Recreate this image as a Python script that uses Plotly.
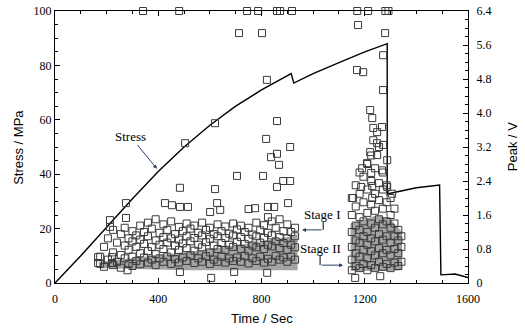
import plotly.graph_objects as go

# ---- Stress curve (Time s, Stress MPa) ----
stress_t = [0, 100, 200, 300, 400, 500, 600, 700, 800, 900, 915, 925, 1000, 1100, 1200, 1287, 1287, 1300, 1400, 1490, 1495, 1550, 1600]
stress_v = [0, 10, 20.5, 31, 41, 50, 58, 65, 71, 76, 77, 73.5, 77, 81, 85, 88, 32.5, 33, 35, 36, 3, 3.3, 2]

# ---- Peak outliers (Time s, Peak V) ----
out_t = [341, 481, 744, 787, 860, 872, 918, 1171, 1213, 1280, 1292,
         713, 802, 1174, 1279, 1170, 1194, 821, 1271, 1271, 620, 504, 860, 818, 911, 837, 860, 868,
         1221, 1229, 1233, 1248, 1267, 1233, 1248, 1271, 1221, 1248, 1287, 1209, 1190, 1225, 1267,
         1186, 1229, 1287, 1155, 1229, 1306,
         167, 167, 221, 221, 213, 213, 275, 275, 426, 484, 453, 484, 515, 705, 806, 860, 911, 884,
         620, 903, 825, 849, 750, 775, 628, 601, 640, 605, 694, 822, 281, 484, 1163, 1260]
out_v = [6.4, 6.4, 6.4, 6.4, 6.4, 6.4, 6.4, 6.4, 6.4, 6.4, 6.4,
         5.88, 5.88, 6.07, 5.88, 5.01, 4.96, 4.78, 5.36, 4.54, 3.76, 3.29, 3.81, 3.39, 3.2, 2.96, 3.04, 2.78,
         4.07, 3.88, 3.65, 3.55, 3.67, 3.36, 3.29, 3.25, 3.08, 3.01, 2.89, 2.82, 2.7, 2.59, 2.65,
         2.26, 2.28, 2.26, 2.0, 2.0, 2.1,
         0.61, 0.47, 0.61, 0.47, 1.48, 1.32, 1.88, 1.53, 1.88, 2.24, 1.83, 1.79, 1.79, 2.52, 2.52, 2.26, 2.4, 2.4,
         2.21, 1.88, 1.79, 1.79, 1.74, 1.76, 1.88, 1.67, 1.72, 0.12, 0.26, 0.24, 0.3, 0.26, 0.12, 0.16]

# ---- Stage I cluster (Time s, Peak V) ----
s1_t = [175, 175, 190, 190, 205, 205, 225, 225, 225, 240, 240, 255, 255, 255, 270, 270, 270, 285, 285, 285,
        300, 300, 300, 300, 315, 315, 315, 330, 330, 330, 330, 345, 345, 345, 360, 360, 360, 360,
        375, 375, 375, 390, 390, 390, 390, 405, 405, 405, 420, 420, 420, 420, 435, 435, 435,
        450, 450, 450, 450, 465, 465, 465, 480, 480, 480, 480, 495, 495, 495, 510, 510, 510, 510,
        525, 525, 525, 540, 540, 540, 540, 555, 555, 555, 570, 570, 570, 570, 585, 585, 585,
        600, 600, 600, 600, 615, 615, 615, 630, 630, 630, 630, 645, 645, 645, 660, 660, 660, 660,
        675, 675, 675, 690, 690, 690, 690, 705, 705, 705, 720, 720, 720, 720, 735, 735, 735,
        750, 750, 750, 750, 765, 765, 765, 780, 780, 780, 780, 795, 795, 795, 810, 810, 810, 810,
        825, 825, 825, 825, 840, 840, 840, 840, 855, 855, 855, 870, 870, 870, 870, 885, 885, 885,
        900, 900, 900, 900, 915, 915, 915, 930, 930, 930, 930]
s1_v = [0.45, 0.62, 0.38, 0.85, 0.55, 1.05, 0.42, 0.72, 1.25, 0.5, 0.95, 0.36, 0.66, 1.15, 0.58, 0.88, 1.3, 0.45, 0.78, 1.05,
        0.4, 0.62, 0.98, 1.22, 0.52, 0.85, 1.12, 0.44, 0.7, 1.02, 1.35, 0.6, 0.92, 1.2, 0.48, 0.75, 1.1, 1.42,
        0.55, 0.85, 1.28, 0.42, 0.68, 1.0, 1.5, 0.58, 0.9, 1.18, 0.5, 0.8, 1.08, 1.38, 0.62, 0.95, 1.25,
        0.45, 0.72, 1.05, 1.45, 0.56, 0.88, 1.15, 0.48, 0.78, 1.02, 1.32, 0.6, 0.93, 1.22, 0.52, 0.82, 1.1, 1.4,
        0.65, 0.98, 1.28, 0.47, 0.76, 1.06, 1.35, 0.58, 0.9, 1.18, 0.5, 0.84, 1.12, 1.42, 0.63, 0.96, 1.25,
        0.45, 0.72, 1.04, 1.3, 0.55, 0.88, 1.15, 0.5, 0.8, 1.1, 1.38, 0.62, 0.94, 1.22, 0.48, 0.78, 1.06, 1.33,
        0.58, 0.9, 1.16, 0.52, 0.85, 1.12, 1.4, 0.6, 0.97, 1.26, 0.5, 0.8, 1.08, 1.35, 0.64, 0.92, 1.2,
        0.46, 0.76, 1.04, 1.3, 0.58, 0.88, 1.14, 0.52, 0.84, 1.1, 1.42, 0.62, 0.95, 1.24, 0.48, 0.8, 1.06, 1.36,
        0.57, 0.9, 1.18, 1.55, 0.5, 0.86, 1.12, 1.45, 0.64, 0.98, 1.3, 0.55, 0.82, 1.08, 1.5, 0.6, 0.94, 1.22,
        0.5, 0.78, 1.05, 1.38, 0.62, 0.9, 1.2, 0.55, 0.84, 1.1, 1.3]

# ---- Stage II cluster (Time s, Peak V) ----
s2_t = [1150] * 6 + [1165] * 6 + [1180] * 7 + [1195] * 6 + [1210] * 7 + [1225] * 7 + [1240] * 7 + \
       [1255] * 7 + [1270] * 7 + [1285] * 6 + [1300] * 6 + [1315] * 5 + [1330] * 4 + [1342] * 3
s2_v = [0.3, 0.55, 0.85, 1.2, 1.6, 2.0,
        0.4, 0.7, 1.0, 1.35, 1.8, 2.3,
        0.35, 0.62, 0.95, 1.25, 1.55, 2.1, 2.6,
        0.45, 0.78, 1.1, 1.45, 1.9, 2.5,
        0.3, 0.58, 0.9, 1.2, 1.65, 2.2, 2.8,
        0.42, 0.75, 1.05, 1.4, 1.85, 2.4, 3.0,
        0.35, 0.65, 0.98, 1.3, 1.7, 2.1, 2.7,
        0.5, 0.82, 1.15, 1.5, 1.95, 2.35, 3.2,
        0.38, 0.7, 1.02, 1.38, 1.75, 2.2, 2.6,
        0.45, 0.78, 1.1, 1.45, 1.9, 2.3,
        0.35, 0.65, 0.95, 1.3, 1.6, 2.0,
        0.48, 0.8, 1.1, 1.4, 1.75,
        0.4, 0.7, 1.0, 1.25,
        0.5, 0.85, 1.1]

# ---- Dense (halftone) bands, Peak V ----
b1_t = [170, 250, 400, 500, 600, 700, 800, 900, 940]
b1_lo = [0.35, 0.33, 0.32, 0.3, 0.3, 0.3, 0.3, 0.3, 0.3]
b1_hi = [0.5, 0.55, 0.65, 0.72, 0.8, 0.88, 0.98, 1.08, 1.15]
b2_t = [1145, 1200, 1250, 1300, 1345]
b2_lo = [0.28, 0.28, 0.28, 0.28, 0.3]
b2_hi = [1.4, 1.5, 1.6, 1.5, 1.2]

fig = go.Figure()

def band(t, lo, hi, color):
    fig.add_trace(go.Scatter(x=t + t[::-1], y=hi + lo[::-1], yaxis="y2", fill="toself",
                             fillcolor=color, line=dict(width=0), mode="lines",
                             hoverinfo="skip", showlegend=False))

band(b1_t, b1_lo, b1_hi, "rgba(125,125,125,0.7)")
band(b2_t, b2_lo, b2_hi, "rgba(125,125,125,0.7)")

sq = dict(symbol="square-open", size=7, color="#3a3a3a", line=dict(width=1))
for xs, ys in [(s1_t, s1_v), (s2_t, s2_v), (out_t, out_v)]:
    fig.add_trace(go.Scatter(x=xs, y=ys, yaxis="y2", mode="markers", marker=sq,
                             showlegend=False, cliponaxis=False))

fig.add_trace(go.Scatter(x=stress_t, y=stress_v, mode="lines",
                         line=dict(color="black", width=1.4), showlegend=False))

serif = "Liberation Serif"
sans = "Liberation Sans"

fig.add_annotation(x=395, y=42, ax=291, ay=54, xref="x", yref="y", axref="x", ayref="y",
                   text="Stress", showarrow=True, arrowhead=2, arrowsize=0.8, arrowwidth=1,
                   font=dict(family=serif, size=13, color="black"))
fig.add_annotation(x=1035, y=1.62, xref="x", yref="y2", text="Stage I", showarrow=False,
                   font=dict(family=serif, size=13, color="black"))
fig.add_annotation(x=1030, y=0.82, xref="x", yref="y2", text="Stage II", showarrow=False,
                   font=dict(family=serif, size=13, color="black"))
# elbow arrows
fig.add_shape(type="line", x0=1039, x1=1039, y0=1.45, y1=1.25, xref="x", yref="y2",
              line=dict(color="black", width=1))
fig.add_annotation(x=957, y=1.25, ax=1039, ay=1.25, xref="x", yref="y2", axref="x", ayref="y2",
                   text="", showarrow=True, arrowhead=2, arrowsize=0.8, arrowwidth=1)
fig.add_shape(type="line", x0=1027, x1=1027, y0=0.66, y1=0.42, xref="x", yref="y2",
              line=dict(color="black", width=1))
fig.add_annotation(x=1116, y=0.42, ax=1027, ay=0.42, xref="x", yref="y2", axref="x", ayref="y2",
                   text="", showarrow=True, arrowhead=2, arrowsize=0.8, arrowwidth=1)

# axis titles
title_font = dict(family=sans, size=13, color="black")
fig.add_annotation(x=0.5, y=-0.129, xref="paper", yref="paper", text="Time / Sec",
                   showarrow=False, font=title_font, yanchor="middle")
fig.add_annotation(x=-0.09, y=0.5, xref="paper", yref="paper", text="Stress / MPa",
                   showarrow=False, font=title_font, textangle=-90, xanchor="center")
fig.add_annotation(x=1.107, y=0.5, xref="paper", yref="paper", text="Peak / V",
                   showarrow=False, font=title_font, textangle=-90, xanchor="center")

axis_common = dict(showgrid=False, zeroline=False, showline=True, linecolor="black", linewidth=1,
                   ticks="inside", ticklen=5, tickcolor="black", automargin=False,
                   tickfont=dict(family=serif, size=12, color="black"))

fig.update_layout(
    width=525, height=328,
    margin=dict(l=55, r=57, t=11, b=45),
    paper_bgcolor="white", plot_bgcolor="white",
    xaxis=dict(range=[0, 1600], tickvals=[0, 400, 800, 1200, 1600], mirror="ticks",
               minor=dict(dtick=100, ticks="inside", ticklen=3, tickcolor="black"),
               ticklabelstandoff=5,
               **axis_common),
    yaxis=dict(range=[0, 100], tickvals=[0, 20, 40, 60, 80, 100],
               minor=dict(dtick=5, ticks="inside", ticklen=3, tickcolor="black"),
               **axis_common),
    yaxis2=dict(range=[0, 6.4], overlaying="y", side="right",
                tickvals=[0, 0.8, 1.6, 2.4, 3.2, 4.0, 4.8, 5.6, 6.4],
                ticktext=["0", "0.8", "1.6", "2.4", "3.2", "4.0", "4.8", "5.6", "6.4"],
                minor=dict(dtick=0.2, ticks="inside", ticklen=3, tickcolor="black"),
                ticklabelstandoff=5,
                **axis_common),
)

fig.write_html("out.html", config={"displayModeBar": False},
               post_script="document.body.style.margin='0';document.body.style.overflow='hidden';")
